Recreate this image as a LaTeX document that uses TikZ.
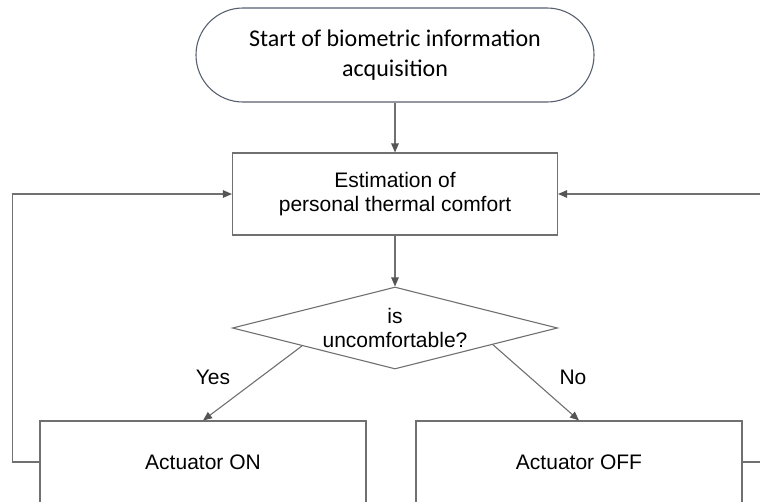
\documentclass[tikz,border=0pt]{standalone}
\usepackage{fontspec}
\setmainfont{Liberation Sans}
\newfontfamily\startfont{Carlito}
\usetikzlibrary{arrows.meta,shapes.geometric,calc}

\definecolor{linegray}{RGB}{112,112,112}
\definecolor{tipgray}{RGB}{85,85,85}
\definecolor{termborder}{RGB}{88,96,112}

\tikzset{
  every node/.style={text=black},
  bodyfont/.style={font=\fontsize{21}{24.5}\selectfont},
  terminal/.style={draw=termborder, line width=1.1pt, rounded corners=47pt,
    minimum width=398pt, minimum height=94pt, align=center,
    font=\startfont\fontsize{24}{30}\selectfont},
  procbox/.style={draw=linegray, line width=1.1pt, rectangle,
    minimum width=325pt, minimum height=82pt, inner sep=0pt, align=center, bodyfont},
  decision/.style={draw=linegray, line width=1.1pt, diamond, shape aspect=4,
    minimum width=325pt, minimum height=82pt, inner sep=0pt, align=center, bodyfont},
  flow/.style={draw=linegray, line width=1.1pt,
    -{Triangle[length=9pt,width=7.5pt,color=tipgray]}},
  branchlabel/.style={bodyfont}
}

\begin{document}
\begin{tikzpicture}[x=1pt,y=-1pt]
  \useasboundingbox (0,0) rectangle (760,501);
  \clip (0,0) rectangle (760,501);

  % flowchart blocks
  \node[terminal] (start) at (395,55) {Start of biometric information\\acquisition};
  \node[procbox] (est) at (395,194) {Estimation of\\personal thermal comfort};
  \node[decision] (dia) at (395,328) {is\\uncomfortable?};
  \node[procbox, minimum width=326pt] (on) at (203,462) {Actuator ON};
  \node[procbox, minimum width=326pt] (off) at (579,462) {Actuator OFF};

  % branch labels
  \node[branchlabel] (yes) at (213,377) {Yes};
  \node[branchlabel] (no) at (573,377) {No};

  % main flow
  \draw[flow] (start.south) -- (est.north);
  \draw[flow] (est.south) -- (dia.north);
  \draw[flow] ($(dia.west)!0.43!(dia.south)$) -- (on.north);
  \draw[flow] ($(dia.south)!0.6!(dia.east)$) -- (off.north);

  % feedback loops back to the estimation step
  \draw[flow] (on.west) -- ++(-27,0) |- (est.west);
  \draw[flow] (off.east) -- ++(40,0) |- (est.east);
\end{tikzpicture}
\end{document}
